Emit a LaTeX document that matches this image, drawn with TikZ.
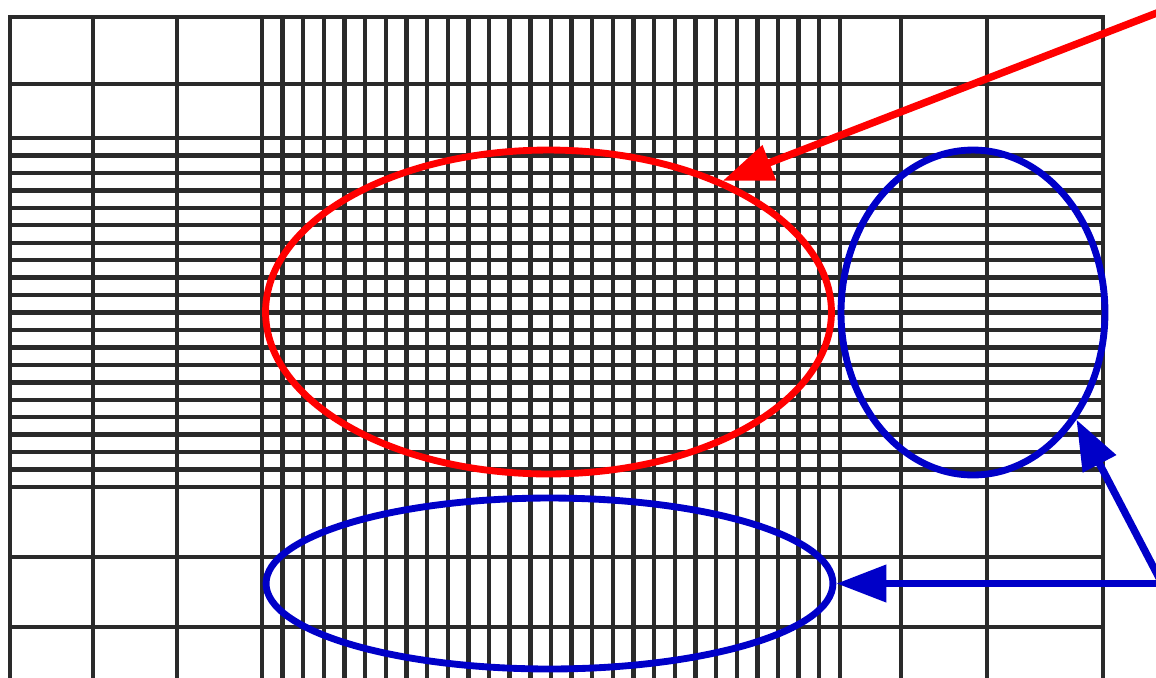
\documentclass[tikz,border=0pt]{standalone}
\usepackage{tikz}
\usetikzlibrary{arrows.meta,shapes.geometric}
\definecolor{gridline}{HTML}{2A2A2A}
\definecolor{ringred}{HTML}{FF0000}
\definecolor{ringblue}{HTML}{0000C8}

\begin{document}
\begin{tikzpicture}[x=0.02cm,y=-0.02cm,
  gridrule/.style={gridline,line width=2.5pt,line cap=rect},
  ring/.style={ellipse,draw,line width=3.9pt,inner sep=0pt},
  pointer/.style={line width=4.2pt,-{Triangle[length=1cm,width=0.72cm]}}]
\useasboundingbox (0,0) rectangle (1156,677);
\fill[white] (0,0) rectangle (1156,677);
% mesh: coarse border cells, fine cells in the middle
\begin{scope}
\clip (0,0) rectangle (1156,677);
\foreach \x in {10,93,177,901,987,1103}
  \draw[gridrule] (\x,17) -- (\x,690);
\foreach \i in {0,...,28}
  \draw[gridrule] (262+\i*20.64,17) -- (262+\i*20.64,690);
\foreach \y in {17,84,557,627}
  \draw[gridrule] (10,\y) -- (1103,\y);
\foreach \j in {0,...,20}
  \draw[gridrule] (10,138+\j*17.45) -- (1103,138+\j*17.45);
\end{scope}
% marked regions
\node[ring,draw=ringred,minimum width=11.32cm,minimum height=6.48cm] (core) at (548.5,312) {};
\node[ring,draw=ringblue,minimum width=5.28cm,minimum height=6.5cm] (side) at (973,312.5) {};
\node[ring,draw=ringblue,minimum width=11.34cm,minimum height=3.42cm] (low) at (549.5,583.5) {};
\coordinate (redstart) at (1162,11);
\coordinate (bluestart) at (1162,583.5);
\draw[pointer,ringred] (redstart) -- (core.37);
\draw[pointer,ringblue] (bluestart) -- (low.east);
\draw[pointer,ringblue] (bluestart) -- (side.-46);
\end{tikzpicture}
\end{document}
